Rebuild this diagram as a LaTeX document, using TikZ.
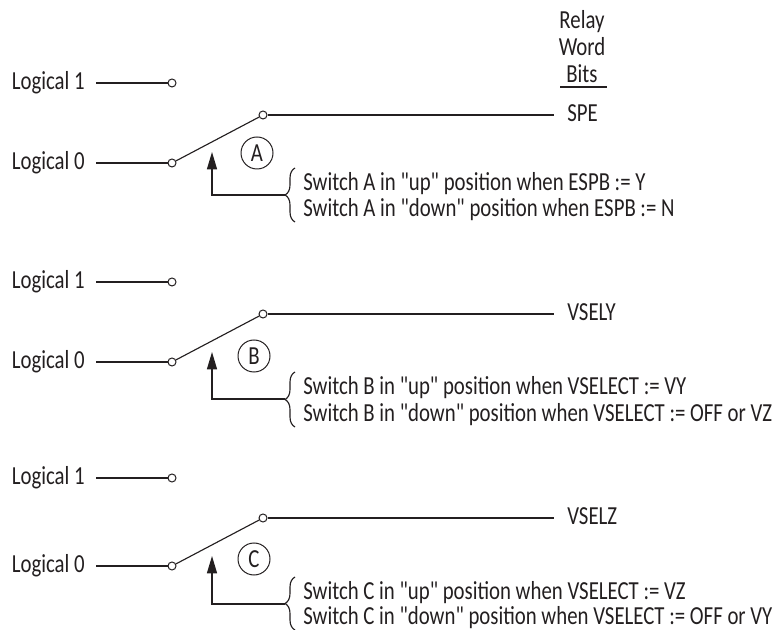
\documentclass[tikz,border=0pt]{standalone}
\usepackage{fontspec}
\setmainfont{Carlito}[FakeStretch=0.8, Ligatures=TeXOff]
\usetikzlibrary{arrows.meta,decorations.pathreplacing}
\definecolor{ink}{HTML}{231F20}

\begin{document}
\begin{tikzpicture}[
    x=0.75pt, y=-0.75pt, color=ink, text=ink, font=\fontsize{19.5}{20}\selectfont,
    wire/.style={line width=0.85pt},
    contact/.style={circle, draw=ink, line width=0.75pt, fill=white, minimum size=6pt, inner sep=0},
    srcbit/.style={anchor=east, inner xsep=8.25pt, inner ysep=0},
    outbit/.style={anchor=west, inner xsep=9.75pt, inner ysep=0},
    tag/.style={circle, draw=ink, line width=0.75pt, minimum size=24pt, inner sep=0},
    note/.style={anchor=west, inner sep=0},
    curly/.style={wire, decorate, decoration={brace, amplitude=7.5pt}},
    pointer/.style={-{Triangle[length=13pt, width=7.5pt]}, line width=1pt}
]
\useasboundingbox (0,0) rectangle (778,630);

% Column heading
\node[align=center, inner sep=0] (relay) at (582,46.5) {Relay\\Word\\Bits};
\coordinate (headL) at (560,87);
\coordinate (headR) at (607,87);
\draw[wire] (headL) -- (headR);

% Switch A
\node[srcbit] (oneA) at (96,83) {Logical 1};
\node[srcbit] (zeroA) at (96,163) {Logical 0};
\node[contact] (upA) at (172,83) {};
\node[contact] (downA) at (172,163) {};
\node[contact] (armA) at (263,115) {};
\node[outbit] (bitA) at (554,113) {SPE};
\node[tag] (tagA) at (257,153) {A};
\node[note] (noteAa) at (303,184) {Switch A in "up" position when ESPB := Y};
\node[note] (noteAb) at (303,210) {Switch A in "down" position when ESPB := N};
\coordinate (braceAb) at (295,222);
\coordinate (braceAt) at (295,168);
\coordinate (braceAm) at (285,195);
\coordinate (headA) at (212,152);
\draw[wire] (oneA) -- (upA);
\draw[wire] (zeroA) -- (downA);
\draw[wire] (downA) -- (armA);
\draw[wire] (armA) -- (armA -| bitA.west);
\draw[curly] (braceAb) -- (braceAt);
\draw[pointer] (braceAm) -| (headA);

% Switch B
\node[srcbit] (oneB) at (96,282) {Logical 1};
\node[srcbit] (zeroB) at (96,362) {Logical 0};
\node[contact] (upB) at (172,282) {};
\node[contact] (downB) at (172,362) {};
\node[contact] (armB) at (263,314) {};
\node[outbit] (bitB) at (554,312) {VSELY};
\node[tag] (tagB) at (254,356) {B};
\node[note] (noteBa) at (303,388) {Switch B in "up" position when VSELECT := VY};
\node[note] (noteBb) at (303,415) {Switch B in "down" position when VSELECT := OFF or VZ};
\coordinate (braceBb) at (295,427);
\coordinate (braceBt) at (295,372);
\coordinate (braceBm) at (285,399);
\coordinate (headB) at (212,352);
\draw[wire] (oneB) -- (upB);
\draw[wire] (zeroB) -- (downB);
\draw[wire] (downB) -- (armB);
\draw[wire] (armB) -- (armB -| bitB.west);
\draw[curly] (braceBb) -- (braceBt);
\draw[pointer] (braceBm) -| (headB);

% Switch C
\node[srcbit] (oneC) at (96,478) {Logical 1};
\node[srcbit] (zeroC) at (96,566) {Logical 0};
\node[contact] (upC) at (172,478) {};
\node[contact] (downC) at (172,566) {};
\node[contact] (armC) at (263,518) {};
\node[outbit] (bitC) at (554,516) {VSELZ};
\node[tag] (tagC) at (254,559) {C};
\node[note] (noteCa) at (303,593) {Switch C in "up" position when VSELECT := VZ};
\node[note] (noteCb) at (303,618) {Switch C in "down" position when VSELECT := OFF or VY};
\coordinate (braceCb) at (295,630);
\coordinate (braceCt) at (295,577);
\coordinate (braceCm) at (285,604);
\coordinate (headC) at (212,556);
\draw[wire] (oneC) -- (upC);
\draw[wire] (zeroC) -- (downC);
\draw[wire] (downC) -- (armC);
\draw[wire] (armC) -- (armC -| bitC.west);
\draw[curly] (braceCb) -- (braceCt);
\draw[pointer] (braceCm) -| (headC);

\end{tikzpicture}
\end{document}
